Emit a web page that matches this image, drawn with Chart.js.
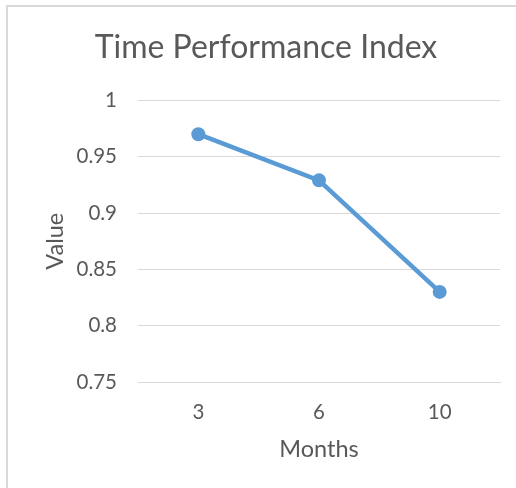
<!DOCTYPE html>
<html>
<head>
<meta charset="utf-8">
<script src="https://cdn.jsdelivr.net/npm/chart.js@4"></script>
<style>
  html, body { margin: 0; padding: 0; background: #fff; }
  #wrap { position: relative; width: 516px; height: 488px; }
  #frame {
    position: absolute; left: 6px; top: 5px; right: 0; bottom: 0;
    border-top: 2px solid #d9d9d9; border-left: 2px solid #d9d9d9;
    pointer-events: none;
  }
</style>
</head>
<body>
<div id="wrap">
  <canvas id="chart"></canvas>
  <div id="frame"></div>
</div>
<script>
// data
const months = ['3', '6', '10'];
const values = [0.97, 0.929, 0.83];
const yTicks = [0.75, 0.8, 0.85, 0.9, 0.95, 1];

const blue = '#5B9BD5';
const textColor = '#595959';
const gridColor = '#d9d9d9';
const fontFamily = 'Lato, "Open Sans", sans-serif';

const config = {
  type: 'line',
  data: {
    labels: months,
    datasets: [
      {
        label: 'Value',
        data: values,
        borderColor: blue,
        backgroundColor: blue,
        borderWidth: 4.5,
        pointRadius: 7,
        pointHoverRadius: 7,
        pointBorderWidth: 0,
        tension: 0
      }
    ]
  },
  options: {
    responsive: true,
    maintainAspectRatio: false,
    animation: false,
    layout: {
      padding: { left: 32, right: 16, top: 0, bottom: 24 }
    },
    plugins: {
      legend: { display: false },
      tooltip: { enabled: false },
      title: {
        display: true,
        text: 'Time Performance Index',
        color: textColor,
        font: { family: fontFamily, size: 32, weight: 'normal' },
        padding: { top: 28, bottom: 34 }
      }
    },
    scales: {
      x: {
        offset: true,
        afterFit: (scale) => {
          scale.height = 82;
        },
        grid: { display: false, drawTicks: false },
        border: { display: true, color: gridColor, width: 1 },
        ticks: {
          color: textColor,
          padding: 18,
          font: { family: fontFamily, size: 20.5 }
        },
        title: {
          display: true,
          text: 'Months',
          color: textColor,
          font: { family: fontFamily, size: 23.5 },
          padding: { top: 12, bottom: 0 }
        }
      },
      y: {
        min: 0.75,
        max: 1,
        afterBuildTicks: (scale) => {
          scale.ticks = yTicks.map(v => ({ value: v }));
        },
        afterFit: (scale) => {
          scale.width = 106;
        },
        grid: { color: gridColor, lineWidth: 1, drawTicks: false },
        border: { display: false },
        ticks: {
          color: textColor,
          padding: 21,
          font: { family: fontFamily, size: 20.5 },
          callback: (v) => String(Number(v.toFixed(2)))
        },
        title: {
          display: true,
          text: 'Value',
          color: textColor,
          font: { family: fontFamily, size: 23.5 },
          padding: { top: 9, bottom: 0 }
        }
      }
    }
  }
};

new Chart(document.getElementById('chart'), config);
</script>
</body>
</html>
